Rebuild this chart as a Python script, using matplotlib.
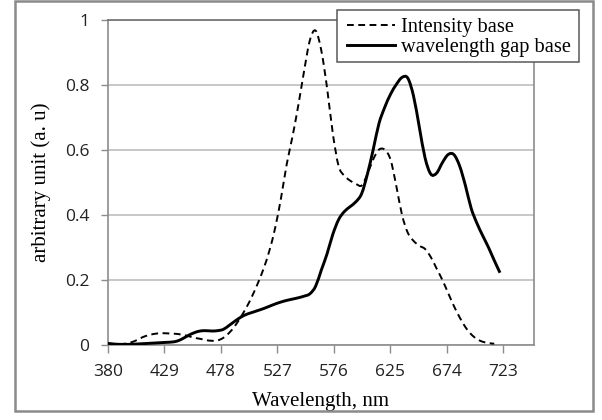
import numpy as np
import matplotlib
matplotlib.use("Agg")
import matplotlib.pyplot as plt
from matplotlib.patches import Rectangle, PathPatch
from matplotlib.path import Path
from matplotlib.lines import Line2D

wavelength = [380, 385, 390, 395, 400, 405, 410, 415, 420, 425, 430, 435, 440, 445, 450,
              455, 460, 465, 470, 475, 480, 485, 490, 495, 500, 505, 510, 515, 520, 525,
              530, 535, 540, 545, 550, 555, 560, 565, 570, 575, 580, 585, 590, 595, 600,
              605, 610, 615, 620, 625, 630, 635, 640, 645, 650, 655, 660, 665, 670, 675,
              680, 685, 690, 695, 700, 705, 710, 715, 720]

intensity_base = [0.004, 0.003, 0.003, 0.004, 0.008, 0.015, 0.024, 0.030, 0.034, 0.036,
                  0.036, 0.035, 0.034, 0.031, 0.027, 0.022, 0.019, 0.015, 0.013, 0.014,
                  0.022, 0.037, 0.058, 0.085, 0.115, 0.150, 0.190, 0.235, 0.290, 0.360,
                  0.450, 0.555, 0.640, 0.735, 0.840, 0.935, 0.966, 0.905, 0.790, 0.650,
                  0.550, 0.520, 0.505, 0.495, 0.490, 0.525, 0.570, 0.600, 0.600, 0.570,
                  0.490, 0.400, 0.345, 0.320, 0.305, 0.295, 0.270, 0.235, 0.200, 0.160,
                  0.120, 0.085, 0.055, 0.033, 0.018, 0.010, 0.006, 0.004, np.nan]

gap_base = [0.005, 0.003, 0.002, 0.002, 0.002, 0.003, 0.004, 0.005, 0.006, 0.007,
            0.008, 0.009, 0.012, 0.020, 0.030, 0.038, 0.043, 0.044, 0.043, 0.044,
            0.048, 0.060, 0.073, 0.085, 0.094, 0.100, 0.106, 0.112, 0.119, 0.126,
            0.132, 0.137, 0.141, 0.145, 0.150, 0.157, 0.180, 0.230, 0.280, 0.340,
            0.385, 0.410, 0.425, 0.440, 0.465, 0.525, 0.600, 0.680, 0.730, 0.770,
            0.800, 0.822, 0.820, 0.765, 0.670, 0.575, 0.525, 0.528, 0.560, 0.585,
            0.585, 0.550, 0.490, 0.420, 0.374, 0.336, 0.300, 0.260, 0.222]

series_names = ["Intensity base", "wavelength gap base"]
xticks = [380, 429, 478, 527, 576, 625, 674, 723]
yticks = [0, 0.2, 0.4, 0.6, 0.8, 1]
ytick_labels = ["0", "0.2", "0.4", "0.6", "0.8", "1"]


def smooth_path(x, y):
    """Excel-style smoothed line: Catmull-Rom segments as cubic Bezier curves."""
    x = np.asarray(x, float)
    y = np.asarray(y, float)
    ok = ~np.isnan(y)
    pts = np.column_stack([x[ok], y[ok]])
    n = len(pts)
    verts = [pts[0]]
    codes = [Path.MOVETO]
    for i in range(n - 1):
        p0 = pts[max(i - 1, 0)]
        p1 = pts[i]
        p2 = pts[i + 1]
        p3 = pts[min(i + 2, n - 1)]
        verts += [p1 + (p2 - p0) / 6.0, p2 - (p3 - p1) / 6.0, p2]
        codes += [Path.CURVE4] * 3
    return Path(verts, codes)


fig = plt.figure(figsize=(6.02, 4.2), dpi=100)
ax = fig.add_axes([108/602, 75/420, 426/602, 325.5/420])

dash = (0, (3.5, 2.3))
ax.add_patch(PathPatch(smooth_path(wavelength, intensity_base), fill=False,
                       edgecolor="black", lw=1.4, linestyle=dash, zorder=3))
ax.add_patch(PathPatch(smooth_path(wavelength, gap_base), fill=False,
                       edgecolor="black", lw=2.1, zorder=3))

ax.set_xlim(380, 749.5)
ax.set_ylim(0, 1)
ax.set_xticks(xticks)
ax.set_xticklabels([str(t) for t in xticks])
ax.set_yticks(yticks)
ax.set_yticklabels(ytick_labels)

for t in ax.get_xticklabels() + ax.get_yticklabels():
    t.set_fontfamily("Open Sans")
    t.set_fontsize(12.5)
    t.set_color("#222222")

ax.tick_params(axis="x", direction="out", length=6, width=1, color="#8c8c8c", pad=8)
ax.tick_params(axis="y", direction="out", length=5, width=1, color="#8c8c8c", pad=8.5)

ax.grid(axis="y", color="#bdbdbd", lw=1.2)
ax.set_axisbelow(True)
for s in ["left", "bottom", "right"]:
    ax.spines[s].set_color("#8c8c8c")
    ax.spines[s].set_linewidth(1.2)
ax.spines["top"].set_color("#6e6e6e")
ax.spines["top"].set_linewidth(1.2)

ax.set_xlabel("Wavelength, nm", fontfamily="Liberation Serif", fontsize=15, labelpad=8)
ax.set_ylabel("arbitrary unit (a. u)", fontfamily="Liberation Serif", fontsize=15, labelpad=10)

handles = [Line2D([], [], color="black", lw=1.4, linestyle=dash),
           Line2D([], [], color="black", lw=2.1)]
leg = fig.legend(handles, series_names, loc="upper left",
                 bbox_to_anchor=(347/602, 1 - 18/420), bbox_transform=fig.transFigure,
                 borderaxespad=0, borderpad=0, frameon=False,
                 prop={"family": "Liberation Serif", "size": 14.7},
                 handlelength=2.35, handletextpad=0.3, labelspacing=0.02)

# legend box (Excel style, square corners, extends beyond plot area)
fig.patches.append(Rectangle((337/602, (420-62)/420), 242/602, 52/420,
                             transform=fig.transFigure, facecolor="white",
                             edgecolor="#595959", lw=1.1, zorder=4))
leg.set_zorder(5)

fig.patches.append(Rectangle((15/602, (420-411)/420), 578/602, 410/420,
                             transform=fig.transFigure, fill=False,
                             edgecolor="#8a8a8a", lw=1.8))

fig.savefig("out.png", dpi=100)
